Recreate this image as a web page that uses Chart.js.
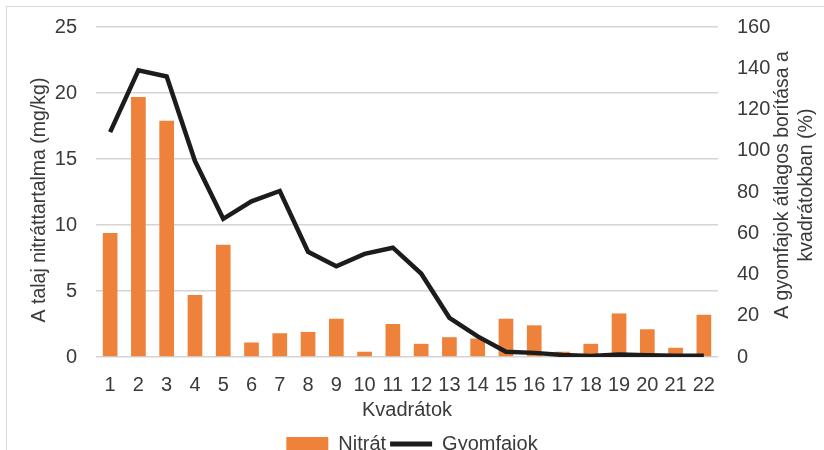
<!DOCTYPE html>
<html>
<head>
<meta charset="utf-8">
<script src="https://cdn.jsdelivr.net/npm/chart.js@4.4.1/dist/chart.umd.min.js"></script>
<style>
  html, body { margin: 0; padding: 0; background: #fff; overflow: hidden; }
  #wrap { position: relative; width: 824px; height: 464px; }
  #frame { position: absolute; left: 6px; top: 6px; width: 840px; height: 480px; border: 1px solid #d9d9d9; box-sizing: border-box; }
  canvas { position: absolute; left: 0; top: 0; }
</style>
</head>
<body>
<div id="wrap">
  <div id="frame"></div>
  <canvas id="c" width="824" height="464"></canvas>
</div>
<script>
// Quadrat labels
const categories = ['1','2','3','4','5','6','7','8','9','10','11','12','13','14','15','16','17','18','19','20','21','22'];
// Soil nitrate content per quadrat (mg/kg)
const nitrat = [9.4, 19.7, 17.9, 4.7, 8.5, 1.1, 1.8, 1.9, 2.9, 0.4, 2.5, 1.0, 1.5, 1.4, 2.9, 2.4, 0.4, 1.0, 3.3, 2.1, 0.7, 3.2];
// Mean weed cover per quadrat (%)
const gyomfajok = [109, 139, 136, 95, 67, 75.5, 80.5, 51, 44, 50, 53, 40.5, 19, 10, 2.5, 2, 1, 0.5, 1.2, 0.8, 0.6, 0.6];

const FONT = "'Liberation Sans Narrow', 'Arial Narrow', 'Liberation Sans', sans-serif";
const TEXT = '#3a3a3a';
const NONE = 'rgba(0,0,0,0)';

// Draws the two axis titles, both reading bottom-to-top
const axisTitles = {
  id: 'axisTitles',
  afterDraw(chart) {
    const ctx = chart.ctx;
    ctx.save();
    ctx.fillStyle = TEXT;
    ctx.font = '19.5px ' + FONT;
    ctx.textAlign = 'center';
    ctx.textBaseline = 'middle';
    ctx.translate(40, 200);
    ctx.rotate(-Math.PI / 2);
    ctx.fillText('A talaj nitráttartalma (mg/kg)', 0, 0);
    ctx.restore();

    ctx.save();
    ctx.fillStyle = TEXT;
    ctx.font = '19.5px ' + FONT;
    ctx.textAlign = 'center';
    ctx.textBaseline = 'middle';
    ctx.translate(783, 185);
    ctx.rotate(-Math.PI / 2);
    ctx.fillText('A gyomfajok átlagos borítása a', 0, 0);
    ctx.fillText('kvadrátokban (%)', 0, 24);
    ctx.restore();
  }
};

new Chart(document.getElementById('c'), {
  data: {
    labels: categories,
    datasets: [
      {
        type: 'line',
        label: 'Gyomfajok',
        data: gyomfajok,
        yAxisID: 'y2',
        borderColor: '#1c1c1c',
        backgroundColor: '#1c1c1c',
        borderWidth: 4.5,
        pointRadius: 0,
        tension: 0,
        order: 0
      },
      {
        type: 'bar',
        label: 'Nitrát',
        data: nitrat,
        yAxisID: 'y',
        backgroundColor: '#EF823A',
        categoryPercentage: 1,
        barPercentage: 0.52,
        order: 1
      }
    ]
  },
  options: {
    responsive: false,
    animation: false,
    layout: { padding: { top: 27, bottom: 0, left: 0, right: 0 } },
    plugins: {
      tooltip: { enabled: false },
      legend: {
        position: 'bottom',
        reverse: true,
        labels: {
          color: TEXT,
          font: { family: FONT, size: 20 },
          usePointStyle: true,
          pointStyleWidth: 42,
          boxHeight: 14,
          padding: 4,
          generateLabels(chart) {
            return chart.data.datasets.map((ds, i) => ({
              text: ds.label,
              datasetIndex: i,
              fillStyle: ds.backgroundColor,
              strokeStyle: ds.type === 'line' ? ds.borderColor : ds.backgroundColor,
              lineWidth: ds.type === 'line' ? 5 : 0,
              pointStyle: ds.type === 'line' ? 'line' : 'rect',
              fontColor: TEXT,
              hidden: false
            }));
          }
        }
      }
    },
    scales: {
      x: {
        grid: { display: false, drawTicks: false },
        border: { display: false },
        ticks: { color: TEXT, font: { family: FONT, size: 20 }, padding: 16, maxRotation: 0, autoSkip: false },
        title: { display: true, text: 'Kvadrátok', color: TEXT, font: { family: FONT, size: 20 }, padding: { top: 0, bottom: 8 } },
        afterFit(scale) { scale.height = 73; }
      },
      y: {
        position: 'left',
        min: 0, max: 25,
        ticks: { stepSize: 5, color: TEXT, font: { family: FONT, size: 20 }, padding: 3 },
        grid: { color: '#d4d4d4', lineWidth: 1.6, drawTicks: true, tickLength: 16, tickColor: NONE },
        border: { display: false },
        afterFit(scale) { scale.width = 96; }
      },
      y2: {
        position: 'right',
        min: 0, max: 160,
        ticks: { stepSize: 20, color: TEXT, font: { family: FONT, size: 20 }, padding: 3 },
        grid: { color: NONE, drawOnChartArea: false, drawTicks: true, tickLength: 16, tickColor: NONE },
        border: { display: false },
        afterFit(scale) { scale.width = 106; }
      }
    }
  },
  plugins: [axisTitles]
});
</script>
</body>
</html>
